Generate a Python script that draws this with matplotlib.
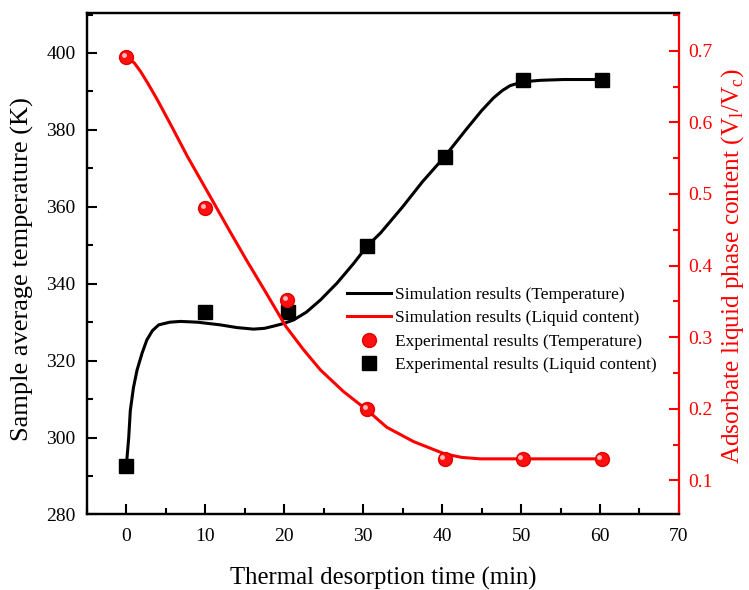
import matplotlib
matplotlib.use("Agg")
import matplotlib.pyplot as plt
from matplotlib.transforms import offset_copy
from matplotlib.ticker import MultipleLocator

plt.rcParams['font.family'] = ['Liberation Serif', 'DejaVu Serif']
plt.rcParams['mathtext.fontset'] = 'custom'
plt.rcParams['mathtext.rm'] = 'Liberation Serif'

# experimental points
exp_time = [0, 10, 20.5, 30.5, 40.3, 50.2, 60.2]
exp_temp = [292.7, 332.7, 332.7, 349.8, 373.0, 393.1, 393.1]
circ_time = [0, 10, 20.4, 30.5, 40.3, 50.2, 60.2]
exp_liquid = [0.691, 0.480, 0.352, 0.200, 0.130, 0.130, 0.130]

# simulated curves
sim_t_time = [0, 0.3, 0.5, 0.9, 1.36, 2.0, 2.6, 3.3, 4.1, 5.5, 6.85, 9, 11.9, 14,
              16.1, 17.5, 18.7, 20, 21.2, 22.8, 24.6, 26.7, 28.8, 30.5, 32.2, 35,
              37.5, 40.3, 43, 45, 46.5, 47.6, 48.6, 50.2, 52.5, 55.4, 60.2]
sim_temp = [292.7, 300, 307, 313, 317.6, 322, 325.4, 327.8, 329.3, 330.0, 330.2,
            330.0, 329.3, 328.6, 328.2, 328.4, 329.0, 329.7, 330.6, 332.6, 335.8,
            340.2, 345.3, 349.8, 353.2, 360, 366.5, 373, 380, 385, 388.3, 390.2,
            391.5, 392.5, 392.9, 393.1, 393.1]
sim_l_time = [0, 1, 1.8, 2.8, 3.9, 5.8, 7.7, 9.4, 11.1, 13.2, 15.3, 17.8, 20.2,
              22.4, 24.6, 27.5, 30.5, 33, 36.4, 40.3, 42.5, 44.8, 50.2, 60.2]
sim_liquid = [0.691, 0.683, 0.671, 0.653, 0.632, 0.593, 0.553, 0.520, 0.487,
              0.446, 0.406, 0.36, 0.315, 0.283, 0.254, 0.224, 0.198, 0.174,
              0.154, 0.137, 0.132, 0.130, 0.130, 0.130]

fig = plt.figure(figsize=(7.49, 5.90), dpi=100)
ax = fig.add_axes([0.116, 0.128, 0.7905, 0.850])
ax2 = ax.twinx()

l1, = ax.plot(sim_t_time, sim_temp, color='black', lw=2.2, zorder=2)
sq, = ax.plot(exp_time, exp_temp, 's', color='black', ms=9.5, zorder=3)

l2, = ax2.plot(sim_l_time, sim_liquid, color='red', lw=2.2, zorder=2)
ci, = ax2.plot(circ_time, exp_liquid, 'o', color='#ff1010', mec='#e00000',
               ms=10, zorder=3)
# little highlight on the spheres
hl_tr = offset_copy(ax2.transData, fig=fig, x=-1.6, y=1.6, units='points')
ax2.plot(circ_time, exp_liquid, 'o', color='#ffd0d0', mec='none', ms=3.5,
         alpha=0.9, transform=hl_tr, zorder=4)

ax.set_xlim(-5, 70)
ax.set_ylim(280, 410.4)
ax2.set_ylim(0.0523, 0.7527)

ax.xaxis.set_major_locator(MultipleLocator(10))
ax.xaxis.set_minor_locator(MultipleLocator(5))
ax.yaxis.set_major_locator(MultipleLocator(20))
ax.yaxis.set_minor_locator(MultipleLocator(10))
ax2.yaxis.set_major_locator(MultipleLocator(0.1))
ax2.yaxis.set_minor_locator(MultipleLocator(0.05))

ax.tick_params(which='both', direction='in', width=1.5, labelsize=14,
               top=False, right=False)
ax.tick_params(which='major', length=7)
ax.tick_params(which='minor', length=4)
ax.tick_params(axis='y', pad=8)
ax.tick_params(axis='x', pad=10)
ax2.tick_params(which='both', direction='in', width=1.5, labelsize=14,
                colors='red', pad=7)
ax2.tick_params(which='major', length=7)
ax2.tick_params(which='minor', length=4)

for s in ['left', 'bottom', 'top']:
    ax.spines[s].set_linewidth(1.6)
    ax2.spines[s].set_linewidth(1.6)
ax.spines['right'].set_visible(False)
ax2.spines['right'].set_color('red')
ax2.spines['right'].set_linewidth(1.6)

ax.set_xlabel('Thermal desorption time (min)', fontsize=17.8)
ax.xaxis.set_label_coords(0.5, -0.105)
ax.set_ylabel('Sample average temperature (K)', fontsize=19)
ax.yaxis.set_label_coords(-0.09, 0.49)
ax2.set_ylabel(r'Adsorbate liquid phase content (V$_\mathregular{l}$/V$_\mathregular{c}$)',
               fontsize=18.2, color='red')
ax2.yaxis.set_label_coords(1.068, 0.495)

ax2.legend([l1, l2, ci, sq],
           ['Simulation results (Temperature)', 'Simulation results (Liquid content)',
            'Experimental results (Temperature)', 'Experimental results (Liquid content)'],
           loc='center left', bbox_to_anchor=(0.44, 0.368), frameon=False,
           fontsize=12.5, borderpad=0, borderaxespad=0, handlelength=2.5,
           handletextpad=0.25, labelspacing=0.42)

fig.savefig('out.png', dpi=100)
